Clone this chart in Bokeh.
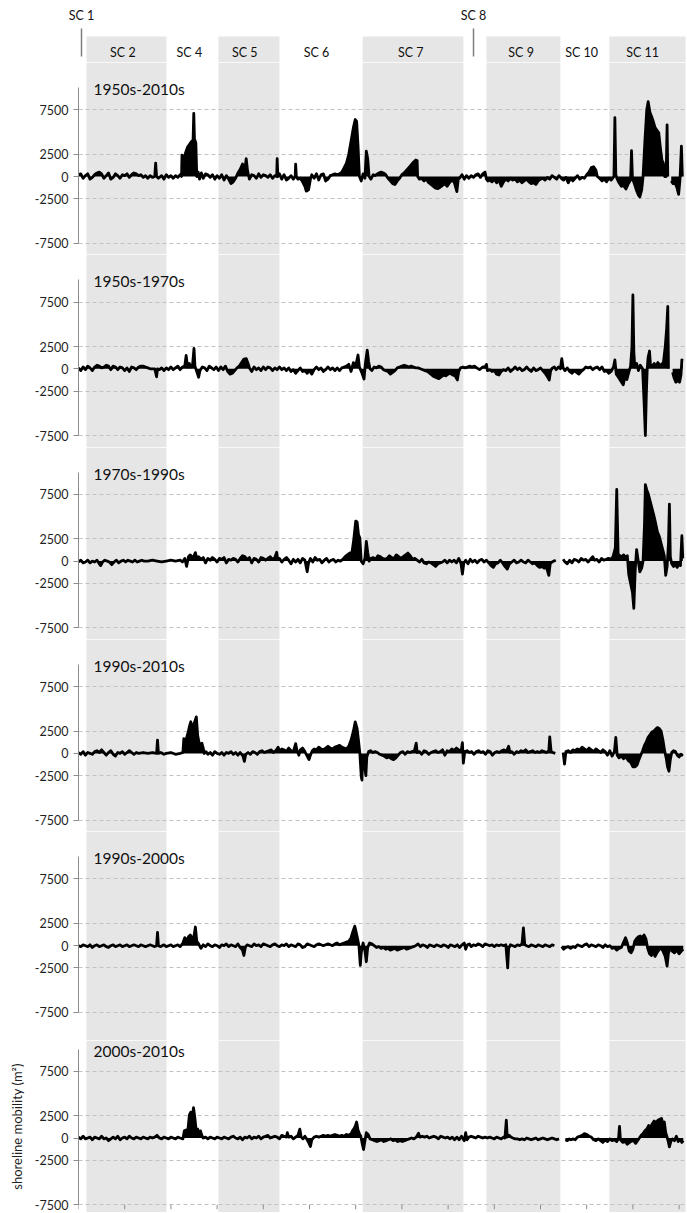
import math
from bokeh.plotting import figure
from bokeh.layouts import column
from bokeh.models import Range1d, FixedTicker
from bokeh.core.properties import value
from bokeh.embed import file_html
from bokeh.resources import INLINE

FONT = "Lato"

# ---------------- data ----------------
# coastal sub-cells: edges along the coast (axis ticks every 10 units)
sc_edges = [1.73, 19.05, 30.3, 43.5, 61.5, 83.3, 88.3, 104.3, 114.9, 131.4]
sc_names = ["SC 2", "SC 4", "SC 5", "SC 6", "SC 7", "", "SC 9", "SC 10", "SC 11"]
sc_shaded = [1, 0, 1, 0, 1, 0, 1, 0, 1]
sc_label_x = [9.6, 24.0, 36.0, 51.5, 71.9, None, 95.8, 108.9, 122.1]
sc_marker_names = ["SC 1", "SC 8"]
sc_marker_x = [0.65, 85.5]

y_ticks = [-7500, -2500, 0, 2500, 7500]
grid_ticks = [-7500, -2500, 2500, 7500]
x_ticks = [0, 10, 20, 30, 40, 50, 60, 70, 80, 90, 100, 110, 120, 130]

titles = ["1950s-2010s", "1950s-1970s", "1970s-1990s", "1990s-2010s", "1990s-2000s", "2000s-2010s"]
y_label = "shoreline mobility (m²)"

# (distance, shoreline mobility m2); (None, None) = gap
p1950_2010 = [
(0.0,200),(0.5,300),(1.0,-200),(1.5,100),(2.0,300),(2.5,-300),(3.0,-100),(3.5,200),(4.0,400),(4.5,500),
(5.0,300),(5.5,-200),(6.0,100),(6.5,400),(7.0,-300),(7.5,-100),(8.0,300),(8.5,100),(9.0,-200),(9.5,200),
(10.0,100),(10.5,300),(11.0,-100),(11.5,200),(12.0,400),(12.5,300),(13.0,100),(13.5,200),(14.0,-100),(14.5,100),
(15.0,-200),(15.5,100),(16.0,-100),(16.5,0),(16.7,1500),(16.9,0),(17.3,-200),(18.0,100),(18.5,-300),(19.0,200),
(19.5,-100),(20.0,100),(20.5,-200),(21.0,100),(21.5,-100),(22.0,200),(22.3,0),(22.4,2400),(22.8,2000),(23.2,2700),
(23.6,3300),(24.0,3600),(24.4,3900),(24.8,4100),(24.95,7100),(25.1,4200),(25.4,3800),(25.6,0),(25.9,500),(26.2,-300),
(26.6,400),(27.0,-200),(27.5,300),(28.0,200),(28.5,-100),(29.0,200),(29.5,-300),(30.0,100),(30.5,-200),(31.0,200),
(31.5,-400),(32.0,100),(32.5,-300),(33.0,-800),(33.5,-600),(34.0,-200),(34.5,400),(35.0,800),(35.5,1400),(36.0,700),
(36.3,2000),(36.6,600),(37.0,-300),(37.5,200),(38.0,100),(38.5,-200),(39.0,300),(39.5,-100),(40.0,200),(40.5,100),
(41.0,-100),(41.5,200),(42.0,-200),(42.5,100),(42.9,0),(43.0,2000),(43.15,0),(43.5,300),(44.0,-300),(44.5,200),
(45.0,-400),(45.5,-200),(46.0,100),(46.5,-300),(46.9,0),(47.0,1400),(47.15,0),(47.5,-300),(48.0,-200),(48.5,-600),
(49.0,-1100),(49.3,-1650),(49.8,-1500),(50.2,-300),(50.5,200),(51.0,-200),(51.5,300),(52.0,-400),(52.5,200),(53.0,300),
(53.5,-500),(54.0,-300),(54.5,100),(55.0,200),(55.5,300),(56.0,200),(56.5,300),(57.0,500),(57.5,1000),(58.0,1500),
(58.5,2500),(59.0,4000),(59.5,5500),(59.9,6400),(60.2,6200),(60.5,3500),(60.8,0),(61.2,-500),(61.6,300),(62.0,-200),
(62.3,2850),(62.6,2000),(62.9,0),(63.3,-300),(63.8,200),(64.2,100),(64.7,300),(65.0,400),(65.5,500),(66.0,400),
(66.5,200),(67.0,-200),(67.5,-500),(68.0,-800),(68.5,-900),(69.0,-500),(69.5,-200),(70.0,200),(70.5,400),(71.0,700),
(71.5,1000),(72.0,1300),(72.5,1600),(73.0,1850),(73.3,1800),(73.4,0),(73.8,-300),(74.2,-200),(74.8,-500),(75.3,-300),
(75.8,-700),(76.3,-900),(76.8,-1100),(77.3,-1300),(77.8,-1350),(78.3,-1200),(78.8,-1000),(79.3,-800),(79.8,-1100),(80.3,-700),
(80.8,-400),(81.3,-600),(81.9,-1700),(82.2,-300),(82.6,-100),(83.0,200),(83.5,-300),(84.0,100),(84.5,-200),(85.0,100),
(85.5,-100),(86.0,200),(86.5,300),(87.0,-100),(87.5,300),(88.0,500),(88.3,-300),(88.6,-500),(89.0,-400),(89.5,-600),
(90.0,-300),(90.5,-700),(91.0,-400),(91.5,-1100),(92.0,-600),(92.5,-300),(93.0,-500),(93.5,-200),(94.0,-400),(94.5,-300),
(95.0,-600),(95.5,-400),(96.0,-700),(96.5,-500),(97.0,-300),(97.5,-600),(98.0,-800),(98.5,-700),(99.0,-900),(99.5,-500),
(100.0,-300),(100.5,-200),(101.0,-400),(101.5,-100),(102.0,-300),(102.5,100),(103.0,-100),(103.5,-300),(104.0,100),(104.5,-200),
(105.0,-400),(105.5,-100),(106.0,-700),(106.5,-200),(107.0,-500),(107.5,-200),(108.0,100),(108.5,-300),(109.0,-100),(109.5,-200),
(110.0,200),(110.5,500),(111.0,1000),(111.5,1100),(112.0,700),(112.3,0),(112.8,-200),(113.3,-500),(113.8,-300),(114.3,-600),
(114.8,-200),(115.3,-400),(115.9,0),(116.1,6600),(116.3,200),(116.6,-300),(117.0,-700),(117.5,-1100),(118.0,-1000),(118.5,-1400),
(119.0,-800),(119.5,-400),(119.7,2900),(119.9,-200),(120.3,-800),(120.8,-1600),(121.2,-2100),(121.5,-2300),(121.9,-1500),(122.2,0),
(122.6,4000),(123.0,7500),(123.3,8400),(123.7,7200),(124.0,6800),(124.4,6200),(124.8,5500),(125.2,5200),(125.6,4900),(126.0,3000),
(126.3,1800),(126.6,1500),(126.9,0),(127.2,0),(127.4,5800),(127.55,0),(None,None),
(128.3,-500),(128.7,-800),(129.1,-700),(129.5,-1200),(129.9,-2000),(130.2,-300),(130.5,3400),(130.7,0),
]

p1950_1970 = [
(0.0,100),(0.5,-200),(1.0,200),(1.5,-100),(2.0,300),(2.5,100),(3.0,-200),(3.5,200),(4.0,400),(4.5,300),
(5.0,100),(5.5,200),(6.0,400),(6.5,300),(7.0,-100),(7.5,300),(8.0,200),(8.5,-100),(9.0,200),(9.5,100),
(10.0,-200),(10.5,100),(11.0,-300),(11.5,200),(12.0,100),(12.5,-100),(13.0,200),(13.5,300),(14.0,300),(14.5,200),
(15.0,100),(15.5,0),(16.0,0),(16.5,0),(16.9,-900),(17.1,0),(17.5,-100),(18.0,100),(18.5,-200),(19.0,100),
(19.5,-100),(20.0,200),(20.5,-100),(21.0,100),(21.5,300),(22.0,-100),(22.5,200),(23.0,300),(23.3,1500),(23.6,200),
(24.0,600),(24.3,200),(24.7,500),(25.0,2300),(25.2,300),(25.6,-300),(26.0,-950),(26.3,-200),(26.8,200),(27.3,100),
(27.8,-200),(28.3,300),(28.8,100),(29.3,-100),(29.8,200),(30.3,-200),(30.8,200),(31.3,-100),(31.8,300),(32.3,-300),
(32.8,-600),(33.3,-500),(33.8,-200),(34.3,100),(34.8,300),(35.3,700),(35.8,1100),(36.3,1150),(36.7,600),(37.0,100),
(37.5,-300),(38.0,200),(38.5,-100),(39.0,100),(39.5,-200),(40.0,200),(40.5,-100),(41.0,200),(41.5,100),(42.0,-200),
(42.5,100),(43.0,-100),(43.5,200),(44.0,-100),(44.5,100),(45.0,-200),(45.5,100),(46.0,-300),(46.5,-100),(47.0,-500),
(47.5,-200),(48.0,100),(48.5,-300),(49.0,-200),(49.5,-500),(50.0,-200),(50.5,-600),(51.0,-100),(51.5,200),(52.0,-100),
(52.5,100),(53.0,-300),(53.5,-100),(54.0,200),(54.5,-100),(55.0,100),(55.5,-200),(56.0,100),(56.5,-200),(57.0,100),
(57.5,200),(58.0,300),(58.5,500),(59.0,-300),(59.5,700),(60.0,300),(60.5,1550),(60.8,200),(61.3,-400),(61.8,-1150),
(62.1,600),(62.5,2100),(62.8,800),(63.1,0),(63.5,-200),(64.0,200),(64.5,100),(65.0,300),(65.5,200),(66.0,-100),
(66.5,-200),(67.0,-300),(67.5,-600),(68.0,-400),(68.5,-200),(69.0,100),(69.5,200),(70.0,300),(70.5,400),(71.0,300),
(71.5,200),(72.0,300),(72.5,200),(73.0,100),(73.5,100),(74.0,0),(74.5,-100),(75.0,-200),(75.5,-300),(76.0,-500),
(76.5,-700),(77.0,-900),(77.5,-1000),(78.0,-1100),(78.5,-900),(79.0,-700),(79.5,-800),(80.0,-600),(80.5,-500),(81.0,-700),
(81.5,-800),(82.0,-1250),(82.3,-300),(82.7,100),(83.2,200),(83.7,100),(84.2,200),(84.7,300),(85.2,200),(85.7,300),
(86.2,100),(86.8,-100),(87.5,200),(88.0,200),(88.3,500),(88.5,-200),(89.0,-100),(89.5,-300),(90.0,-200),(90.5,-600),
(91.0,-700),(91.5,-300),(92.0,-100),(92.5,-200),(93.0,100),(93.5,-300),(94.0,-100),(94.5,200),(95.0,-100),(95.5,100),
(96.0,-200),(96.5,-100),(97.0,200),(97.5,-100),(98.0,-300),(98.5,100),(99.0,-200),(99.5,-100),(100.0,100),(100.5,-200),
(101.0,-500),(101.5,-900),(101.9,-1250),(102.2,-200),(102.6,100),(103.0,200),(103.4,-100),(103.9,200),(104.3,0),(104.6,1150),
(104.9,100),(105.3,-200),(105.8,100),(106.3,-300),(106.8,-500),(107.3,-200),(107.8,-400),(108.3,-600),(108.8,-300),(109.3,-100),
(109.8,200),(110.3,100),(110.8,200),(111.3,-100),(111.8,100),(112.3,200),(112.8,-100),(113.3,200),(113.8,-300),(114.3,-200),
(114.8,-500),(115.3,-300),(115.8,200),(116.1,1000),(116.4,-600),(116.8,-900),(117.3,-1300),(117.9,-1800),(118.3,-900),(118.7,-1200),
(119.1,-400),(119.5,300),(119.8,2500),(120.0,8300),(120.2,2000),(120.4,200),(120.8,600),(121.2,-200),(121.6,400),(122.1,0),
(122.4,-3500),(122.7,-7500),(122.9,-3000),(123.1,0),(123.3,1300),(123.6,2000),(123.8,400),(124.2,300),(124.6,600),(125.0,300),
(125.4,700),(125.8,400),(126.2,500),(126.6,700),(127.0,2500),(127.3,4500),(127.55,7000),(127.7,0),(None,None),
(128.6,-400),(128.9,-1000),(129.3,-1500),(129.7,-1300),(130.1,-1500),(130.4,-700),(130.6,1000),(130.8,900),
]

p1970_1990 = [
(0.0,-100),(0.5,100),(1.0,-200),(1.5,-100),(2.0,100),(2.5,-200),(3.0,0),(3.5,-100),(4.0,100),(4.5,-300),
(4.8,-500),(5.2,-100),(5.7,100),(6.2,0),(6.7,-100),(7.2,-400),(7.7,-100),(8.2,100),(8.7,-200),(9.2,0),
(9.7,100),(10.2,-100),(10.7,100),(11.2,0),(11.7,-100),(12.2,100),(12.7,-100),(13.2,0),(13.7,100),(14.2,0),
(15.0,0),(16.0,100),(17.0,0),(18.0,-100),(19.0,0),(20.0,100),(21.0,0),(22.0,100),(22.5,-100),(23.0,300),
(23.4,-600),(23.8,500),(24.2,700),(24.6,400),(25.0,600),(25.3,950),(25.6,300),(26.0,500),(26.5,200),(27.0,400),
(27.5,-200),(28.0,300),(28.5,100),(29.0,400),(29.5,200),(30.0,-100),(30.5,300),(31.0,200),(31.5,400),(32.0,-200),
(32.5,200),(33.0,100),(33.5,300),(34.0,200),(34.5,-100),(35.0,300),(35.5,600),(36.0,500),(36.5,200),(37.0,400),
(37.5,-200),(38.0,300),(38.5,200),(39.0,-100),(39.5,400),(40.0,300),(40.5,100),(41.0,300),(41.5,500),(42.0,200),
(42.5,400),(42.9,1000),(43.1,200),(43.5,300),(44.0,-100),(44.5,200),(45.0,400),(45.5,100),(46.0,-300),(46.5,200),
(47.0,-100),(47.5,200),(48.0,-200),(48.5,300),(49.0,100),(49.5,-1200),(49.8,-200),(50.2,300),(50.7,-100),(51.2,400),
(51.7,100),(52.2,200),(52.7,-200),(53.2,100),(53.7,300),(54.2,-100),(54.7,100),(55.2,200),(55.7,-100),(56.2,100),
(56.7,0),(57.2,200),(57.7,500),(58.2,700),(58.7,900),(59.2,1000),(59.6,2500),(60.0,4500),(60.3,4400),(60.6,3000),
(60.9,2600),(61.2,0),(61.6,-300),(62.0,300),(62.3,2200),(62.6,1000),(62.9,0),(63.3,300),(63.8,400),(64.3,200),
(64.8,600),(65.3,500),(65.8,300),(66.3,200),(66.8,300),(67.3,600),(67.8,400),(68.3,300),(68.8,700),(69.3,500),
(69.8,300),(70.3,500),(70.8,700),(71.3,900),(71.8,600),(72.3,200),(72.8,300),(73.3,100),(73.8,-100),(74.3,200),
(74.8,-200),(75.3,-300),(75.8,-100),(76.3,-200),(76.8,-400),(77.3,-600),(77.8,-300),(78.3,-200),(78.8,-100),(79.3,100),
(79.8,-200),(80.3,100),(80.8,-100),(81.3,100),(81.8,-200),(82.3,300),(82.8,-300),(83.1,-1450),(83.4,-200),(83.8,100),
(84.3,-300),(84.8,200),(85.3,-100),(85.8,100),(86.3,-200),(86.8,100),(87.3,200),(87.8,-100),(88.3,100),(88.8,-200),
(89.3,-500),(89.8,-700),(90.3,-300),(90.8,-200),(91.3,100),(91.8,-200),(92.3,-600),(92.8,-900),(93.3,-300),(93.8,-100),
(94.3,100),(94.8,-200),(95.3,-100),(95.8,100),(96.3,-100),(96.8,-200),(97.3,100),(97.8,-100),(98.3,-300),(98.8,-200),
(99.3,-500),(99.8,-700),(100.3,-600),(100.8,-800),(101.3,-700),(101.8,-1600),(102.1,-300),(102.5,-100),(102.9,0),(103.3,100),
(None,None),
(104.9,200),(105.3,-100),(105.8,-300),(106.3,100),(106.8,-200),(107.3,200),(107.8,100),(108.3,-100),(108.8,300),(109.3,100),
(109.8,200),(110.3,-100),(110.8,200),(111.3,500),(111.7,100),(112.2,200),(112.7,-100),(113.2,300),(113.7,100),(114.2,200),
(114.7,300),(115.2,200),(115.7,500),(116.2,1500),(116.5,8050),(116.8,800),(117.2,600),(117.6,500),(118.0,700),(118.4,400),
(118.8,600),(119.1,-1500),(119.5,-2500),(119.9,-3500),(120.2,-5300),(120.5,-1000),(120.8,1300),(121.1,200),(121.5,-1200),(121.9,-800),
(122.2,0),(122.5,4000),(122.7,8600),(123.0,8000),(123.3,7600),(123.7,6800),(124.1,6000),(124.5,5200),(124.9,4300),(125.3,3300),
(125.7,2800),(126.1,2000),(126.5,1200),(126.8,600),(127.1,-1600),(127.4,-600),(127.7,2000),(127.9,6400),(128.1,500),(128.4,-300),
(128.8,-600),(129.2,-400),(129.6,-700),(130.0,-300),(130.3,-500),(130.6,2850),(130.8,300),
]

p1990_2010 = [
(0.0,100),(0.5,-100),(1.0,200),(1.5,-200),(2.0,100),(2.5,0),(3.0,-100),(3.5,200),(4.0,300),(4.5,100),
(5.0,400),(5.5,100),(6.0,-200),(6.5,100),(7.0,300),(7.5,-100),(8.0,-300),(8.5,100),(9.0,0),(9.5,200),
(10.0,-100),(10.5,100),(11.0,300),(11.5,100),(12.0,-100),(12.5,100),(13.0,0),(14.0,100),(15.0,0),(16.0,100),
(16.9,0),(17.1,1500),(17.3,0),(17.8,100),(18.5,-100),(19.0,0),(20.0,100),(21.0,-100),(22.0,0),(22.6,100),
(22.8,1650),(23.2,1400),(23.6,2100),(24.0,3000),(24.3,3550),(24.6,3000),(25.0,3300),(25.5,4100),(25.8,2000),(26.1,1200),
(26.4,900),(26.7,1150),(27.0,600),(27.2,0),(27.6,200),(28.0,-100),(28.5,100),(29.0,-200),(29.5,200),(30.0,0),
(30.5,-100),(31.0,100),(31.5,-200),(32.0,100),(32.5,0),(33.0,200),(33.5,-100),(34.0,100),(34.5,-200),(35.0,100),
(35.6,-300),(35.9,-900),(36.2,-100),(36.7,100),(37.2,-100),(37.7,200),(38.2,100),(38.7,-100),(39.2,200),(39.7,300),
(40.2,100),(40.7,200),(41.2,300),(41.7,400),(42.2,100),(42.7,300),(43.2,700),(43.6,200),(44.0,500),(44.5,400),
(45.0,200),(45.5,600),(46.0,300),(46.5,200),(47.0,1100),(47.3,300),(47.7,-200),(48.0,400),(48.5,600),(49.0,200),
(49.5,-300),(49.9,-700),(50.2,-200),(50.6,300),(51.0,500),(51.5,400),(52.0,700),(52.5,500),(53.0,400),(53.5,600),
(54.0,800),(54.5,600),(55.0,500),(55.5,700),(56.0,800),(56.5,900),(57.0,700),(57.5,600),(58.0,500),(58.5,800),
(59.0,1500),(59.5,2500),(59.9,3550),(60.3,2800),(60.6,1500),(60.9,0),(61.2,-2600),(61.35,-3000),(61.5,-500),(61.8,-1000),
(62.2,-2500),(62.4,-400),(62.8,200),(63.2,300),(63.7,100),(64.2,200),(64.7,100),(65.2,-100),(65.7,-200),(66.2,-300),
(66.7,-500),(67.2,-400),(67.7,-600),(68.2,-700),(68.7,-500),(69.2,-200),(69.7,100),(70.2,200),(70.7,-100),(71.2,200),
(71.7,100),(72.2,200),(72.7,300),(73.1,1150),(73.3,100),(73.8,200),(74.3,-100),(74.8,300),(75.3,200),(75.8,-100),
(76.3,100),(76.8,200),(77.3,300),(77.8,100),(78.3,200),(78.8,400),(79.3,-200),(79.8,300),(80.3,200),(80.8,500),
(81.3,300),(81.8,600),(82.3,400),(82.8,200),(83.1,1200),(83.3,-1100),(83.6,200),(84.1,300),(84.6,100),(85.1,200),
(85.6,-100),(86.1,200),(86.6,300),(87.1,100),(87.6,200),(88.1,-100),(88.6,300),(89.1,200),(89.6,-200),(90.1,100),
(90.6,200),(91.1,100),(91.6,300),(92.1,400),(92.6,200),(93.1,800),(93.4,100),(93.8,200),(94.3,-100),(94.8,200),
(95.3,100),(95.8,300),(96.3,200),(96.8,400),(97.3,100),(97.8,200),(98.3,300),(98.8,100),(99.3,200),(99.8,100),
(100.3,300),(100.8,200),(101.3,100),(101.8,300),(102.0,1850),(102.3,200),(102.7,100),(103.2,0),(None,None),
(104.9,100),(105.2,-1200),(105.5,200),(106.0,300),(106.5,100),(107.0,400),(107.5,300),(108.0,500),(108.5,400),(109.0,700),
(109.5,500),(110.0,300),(110.5,600),(111.0,400),(111.5,200),(112.0,500),(112.5,300),(113.0,100),(113.5,400),(114.0,200),
(114.5,-200),(115.0,300),(115.5,-300),(116.0,200),(116.3,1800),(116.6,-200),(117.0,-500),(117.5,-300),(118.0,-600),(118.5,-400),
(119.0,-800),(119.5,-1000),(120.0,-1500),(120.5,-1500),(120.9,-1300),(121.3,-700),(121.7,-200),(122.1,300),(122.5,900),(122.9,1300),
(123.3,1800),(123.7,2100),(124.1,2400),(124.5,2500),(124.9,2700),(125.3,2900),(125.7,2800),(126.1,2500),(126.5,1500),(126.9,200),
(127.2,-500),(127.5,-1500),(127.8,-2000),(128.1,-700),(128.4,100),(128.8,300),(129.2,200),(129.6,-200),(130.0,-400),(130.4,-100),
(130.8,-300),
]

p1990_2000 = [
(0.0,0),(0.5,-100),(1.0,100),(1.5,0),(2.0,-100),(2.5,100),(3.0,-200),(3.5,0),(4.0,100),(4.5,-100),
(5.0,0),(5.5,100),(6.0,-100),(6.5,-200),(7.0,0),(7.5,100),(8.0,-100),(8.5,0),(9.0,100),(9.5,-100),
(10.0,0),(10.5,100),(11.0,-100),(11.5,0),(12.0,100),(12.5,0),(13.0,-100),(13.5,100),(14.0,0),(14.5,-100),
(15.0,0),(15.5,100),(16.0,0),(16.5,-100),(16.9,0),(17.1,1500),(17.3,0),(17.8,-100),(18.5,100),(19.0,-100),
(19.5,0),(20.0,100),(20.5,-100),(21.0,0),(21.5,100),(22.0,-100),(22.6,300),(23.0,900),(23.4,600),(23.8,1000),
(24.2,1200),(24.6,800),(25.0,1100),(25.3,2100),(25.6,500),(26.0,200),(26.5,-300),(27.0,100),(27.5,-100),(28.0,200),
(28.5,0),(29.0,-100),(29.5,100),(30.0,0),(30.5,-200),(31.0,100),(31.5,0),(32.0,200),(32.5,-100),(33.0,100),
(33.5,0),(34.0,-100),(34.5,200),(35.0,-200),(35.5,-500),(35.8,-1100),(36.1,-200),(36.5,100),(37.0,0),(37.5,-100),
(38.0,200),(38.5,0),(39.0,100),(39.5,-100),(40.0,200),(40.5,100),(41.0,0),(41.5,-100),(42.0,100),(42.5,200),
(43.0,0),(43.5,-100),(44.0,100),(44.5,0),(45.0,200),(45.5,-100),(46.0,100),(46.5,0),(47.0,-100),(47.5,200),
(48.0,100),(48.5,-200),(49.0,-100),(49.5,200),(50.0,100),(50.5,0),(51.0,-100),(51.5,100),(52.0,200),(52.5,100),
(53.0,0),(53.5,100),(54.0,200),(54.5,100),(55.0,0),(55.5,200),(56.0,300),(56.5,100),(57.0,200),(57.5,300),
(58.0,400),(58.5,500),(59.0,900),(59.4,1600),(59.8,2200),(60.1,1500),(60.4,800),(60.7,0),(61.0,-2200),(61.2,-800),
(61.6,300),(62.0,-600),(62.3,-1800),(62.6,-200),(63.0,300),(63.5,200),(64.0,0),(64.5,-200),(65.0,-100),(65.5,-300),
(66.0,-200),(66.5,-400),(67.0,-300),(67.5,-500),(68.0,-400),(68.5,-300),(69.0,-500),(69.5,-400),(70.0,-300),(70.5,-200),
(71.0,-400),(71.5,-300),(72.0,-200),(72.5,-100),(73.0,0),(73.5,200),(74.0,-100),(74.5,100),(75.0,0),(75.5,-200),
(76.0,100),(76.5,0),(77.0,-100),(77.5,100),(78.0,0),(78.5,-100),(79.0,100),(79.5,0),(80.0,-200),(80.5,100),
(81.0,0),(81.5,-100),(82.0,100),(82.5,-200),(83.0,100),(83.5,300),(83.8,-400),(84.2,100),(84.6,200),(85.0,-100),
(85.5,100),(86.0,0),(86.5,200),(87.0,100),(87.5,-100),(88.0,200),(88.5,100),(89.0,0),(89.5,100),(90.0,-100),
(90.5,100),(91.0,0),(91.5,100),(92.0,0),(92.5,100),(92.9,-2500),(93.1,-300),(93.5,100),(94.0,0),(94.5,-100),
(95.0,100),(95.5,0),(96.0,200),(96.3,2000),(96.6,100),(97.0,0),(97.5,-100),(98.0,100),(98.5,0),(99.0,-100),
(99.5,100),(100.0,0),(100.5,-100),(101.0,100),(101.5,0),(102.0,-100),(102.5,100),(103.0,0),(None,None),
(104.6,-100),(105.0,-400),(105.5,-200),(106.0,-100),(106.5,-300),(107.0,-100),(107.5,-200),(108.0,100),(108.5,0),(109.0,-100),
(109.5,100),(110.0,200),(110.5,-100),(111.0,100),(111.5,0),(112.0,-100),(112.5,100),(113.0,0),(113.5,-200),(114.0,100),
(114.5,-100),(115.0,0),(115.5,-300),(116.0,-200),(116.5,-500),(117.0,-300),(117.5,-200),(118.0,400),(118.4,900),(118.8,300),
(119.2,-600),(119.6,-800),(120.0,-400),(120.4,500),(120.8,800),(121.2,1000),(121.6,1100),(122.0,900),(122.4,1200),(122.8,800),
(123.2,-300),(123.6,-900),(124.0,-1100),(124.4,-700),(124.8,-1200),(125.2,-800),(125.6,-500),(126.0,-200),(126.5,-600),(127.0,-1200),
(127.4,-2300),(127.7,-800),(128.1,-300),(128.5,-600),(129.0,-800),(129.5,-500),(130.0,-900),(130.5,-600),(130.9,-400),
]

p2000_2010 = [
(0.0,100),(0.5,-100),(1.0,200),(1.5,-100),(2.0,0),(2.5,100),(3.0,-200),(3.5,100),(4.0,0),(4.5,-100),
(5.0,200),(5.5,-100),(6.0,0),(6.5,-300),(7.0,-100),(7.5,100),(8.0,-100),(8.5,200),(9.0,-200),(9.5,0),
(10.0,100),(10.5,-100),(11.0,200),(11.5,0),(12.0,-100),(12.5,100),(13.0,0),(13.5,-100),(14.0,100),(14.5,0),
(15.0,-100),(15.5,100),(16.0,0),(16.5,100),(17.0,300),(17.5,0),(18.0,-100),(18.5,100),(19.0,0),(19.5,-100),
(20.0,100),(20.5,0),(21.0,-100),(21.5,100),(22.0,0),(22.6,-100),(22.9,800),(23.3,900),(23.7,1000),(24.0,2600),
(24.3,2900),(24.6,2400),(24.9,3400),(25.2,2200),(25.5,700),(25.8,1000),(26.1,400),(26.4,800),(26.7,300),(27.0,0),
(27.5,100),(28.0,-100),(28.5,100),(29.0,0),(29.5,-100),(30.0,100),(30.5,0),(31.0,-100),(31.5,100),(32.0,0),
(32.5,-100),(33.0,100),(33.5,200),(34.0,0),(34.5,-100),(35.0,100),(35.5,-200),(36.0,100),(36.5,0),(37.0,200),
(37.5,-100),(38.0,100),(38.5,0),(39.0,200),(39.5,-100),(40.0,100),(40.5,200),(41.0,300),(41.5,0),(42.0,100),
(42.5,200),(43.0,100),(43.5,-100),(44.0,300),(44.5,200),(45.0,100),(45.2,600),(45.5,100),(46.0,200),(46.5,-100),
(47.0,100),(47.5,300),(47.9,1000),(48.2,100),(48.6,-100),(49.0,200),(49.5,-200),(49.9,-600),(50.2,-950),(50.5,-200),
(51.0,100),(51.5,200),(52.0,100),(52.5,200),(53.0,300),(53.5,200),(54.0,300),(54.5,200),(55.0,300),(55.5,400),
(56.0,300),(56.5,200),(57.0,300),(57.5,200),(58.0,400),(58.5,300),(59.0,500),(59.4,900),(59.7,1100),(60.0,1500),
(60.2,1800),(60.5,900),(60.8,500),(61.1,200),(61.4,-600),(61.7,-1300),(62.0,-300),(62.3,600),(62.7,400),(63.1,-100),
(63.6,-200),(64.1,-300),(64.6,-400),(65.1,-300),(65.6,-200),(66.1,-400),(66.6,-300),(67.1,-200),(67.6,-100),(68.1,-300),
(68.6,-200),(69.1,-400),(69.6,-300),(70.1,-400),(70.6,-300),(71.1,-200),(71.6,-100),(72.1,0),(72.6,-100),(73.1,100),
(73.6,550),(73.9,100),(74.4,200),(74.9,100),(75.4,200),(75.9,0),(76.4,100),(76.9,200),(77.4,100),(77.9,-100),
(78.4,200),(78.9,100),(79.4,0),(79.9,100),(80.4,-100),(80.9,100),(81.4,-200),(81.9,100),(82.4,-200),(82.9,200),
(83.5,-300),(83.8,600),(84.1,-200),(84.5,100),(85.0,200),(85.5,100),(86.0,0),(86.5,200),(87.0,100),(87.5,0),
(88.0,100),(88.5,0),(89.0,100),(89.5,0),(90.0,-100),(90.5,100),(91.0,0),(91.5,-100),(92.0,100),(92.3,0),
(92.6,2000),(92.8,100),(93.2,300),(93.6,100),(94.0,0),(94.5,-100),(95.0,-100),(95.5,-200),(96.0,-100),(96.5,-200),
(97.0,0),(97.5,-100),(98.0,-200),(98.5,-100),(99.0,0),(99.5,-200),(100.0,-100),(100.5,0),(101.0,-100),(101.5,-200),
(102.0,-100),(102.5,0),(103.0,-100),(103.5,-200),(104.0,-100),(None,None),
(105.4,-200),(105.8,-300),(106.2,-100),(106.6,-200),(107.0,-100),(107.5,-200),(108.0,100),(108.5,200),(109.0,300),(109.5,500),
(110.0,400),(110.5,200),(111.0,100),(111.5,-200),(112.0,-300),(112.5,-100),(113.0,-300),(113.5,-500),(114.0,-200),(114.5,-400),
(115.0,-100),(115.5,-300),(116.0,-200),(116.5,-400),(116.9,0),(117.1,1300),(117.3,-200),(117.8,-500),(118.3,-400),(118.8,-700),
(119.3,-500),(119.8,-300),(120.3,-400),(120.6,-600),(121.0,-300),(121.4,0),(121.8,300),(122.2,500),(122.6,800),(123.0,1000),
(123.4,1400),(123.8,1200),(124.2,1600),(124.6,1900),(125.0,1700),(125.4,2000),(125.8,2100),(126.2,2200),(126.5,1500),(126.8,1800),
(127.1,600),(127.4,100),(127.7,-500),(127.9,-1000),(128.2,-400),(128.6,-100),(129.0,-300),(129.4,200),(129.8,-400),(130.2,-200),
(130.6,-500),(130.9,-300),
]

series = [p1950_2010, p1950_1970, p1970_1990, p1990_2010, p1990_2000, p2000_2010]

# ---------------- layout constants ----------------
S = 0.0089           # px per m2 (vertical)
PX_U = 4.62          # px per distance unit
FIG_W = 687
LEFT = 78
XMAX = (FIG_W - LEFT) / PX_U
T0 = 87.0            # page y of the first panel's axis top (10000)
PERIOD = 192.3       # vertical distance between panels
TOP_PAD = 25         # px above each axis top inside its figure
LAST_TOP_PAD = 9
TOTAL_H = 1212
HDR_FRAME_TOP = 25
GRAY = "#e6e6e6"
AXIS_GRAY = "#8c8c8c"

n = len(series)
tops = [int(round(T0 + PERIOD * i - (LAST_TOP_PAD if i == n - 1 else TOP_PAD))) for i in range(n)] + [TOTAL_H]
HEADER_H = tops[0]


def segments(pts):
    segs = [[]]
    for x, y in pts:
        if y is None:
            segs.append([])
        else:
            segs[-1].append((x, y))
    return [([a for a, b in s], [b for a, b in s]) for s in segs if s]


band_l = [sc_edges[i] for i, sh in enumerate(sc_shaded) if sh]
band_r = [sc_edges[i + 1] for i, sh in enumerate(sc_shaded) if sh]

# ---------------- header ----------------
hdr = figure(width=FIG_W, height=HEADER_H, x_range=Range1d(0, XMAX),
             y_range=Range1d(HEADER_H, HDR_FRAME_TOP), output_backend="svg", toolbar_location=None,
             x_axis_location="above", y_axis_location=None,
             min_border_left=LEFT, min_border_right=0, min_border_top=HDR_FRAME_TOP, min_border_bottom=0)
hdr.grid.visible = False
hdr.outline_line_color = None
hdr.quad(left=band_l, right=band_r, top=36, bottom=HEADER_H, fill_color=GRAY, line_color=None)
lab_x = [x for x in sc_label_x if x is not None]
lab_t = [nm for nm, x in zip(sc_names, sc_label_x) if x is not None]
hdr.text(x=lab_x, y=[52] * len(lab_x), text=lab_t, text_font=value(FONT), text_font_size="12.5px",
         text_align="center", text_baseline="middle", text_color="#111111")
hdr.segment(x0=sc_marker_x, x1=sc_marker_x, y0=[28] * 2, y1=[56] * 2, line_color="#7f7f7f", line_width=1.5)
ha = hdr.xaxis[0]
ha.ticker = FixedTicker(ticks=sc_marker_x)
ha.major_label_overrides = {x: nm for x, nm in zip(sc_marker_x, sc_marker_names)}
ha.axis_line_color = None
ha.major_tick_line_color = None
ha.minor_tick_line_color = None
ha.major_tick_out = 0
ha.major_tick_in = 0
ha.major_label_standoff = 3
ha.major_label_text_font = FONT
ha.major_label_text_font_size = "12.5px"
ha.major_label_text_color = "#111111"

# ---------------- panels ----------------
figs = [hdr]
for i, (title, pts) in enumerate(zip(titles, series)):
    last = i == n - 1
    h = tops[i + 1] - tops[i]
    t_axis = T0 + PERIOD * i
    y1 = 10000 + (t_axis - tops[i]) / S
    y0 = y1 - h / S
    p = figure(width=FIG_W, height=h, x_range=Range1d(0, XMAX), y_range=Range1d(y0, y1),
               output_backend="svg", toolbar_location=None, x_axis_location=None,
               min_border_left=LEFT, min_border_right=0, min_border_top=0, min_border_bottom=0)
    p.outline_line_color = None
    p.background_fill_color = "white"
    p.quad(left=band_l, right=band_r, top=y1, bottom=y0, fill_color=GRAY, line_color=None, level="image")

    for xs, ys in segments(pts):
        p.varea(x=xs, y1=[0] * len(xs), y2=ys, fill_color="black")
        p.line(xs, ys, line_color="black", line_width=2.8, line_join="round")

    p.text(x=[3.25], y=[9830], text=[title], text_font=value(FONT), text_font_size="15.5px",
           text_baseline="middle", text_align="left", text_color="#111111")

    ya = p.yaxis[0]
    ya.ticker = FixedTicker(ticks=y_ticks)
    ya.major_label_overrides = {t: str(t) for t in y_ticks}
    ya.bounds = (-7500, 10000)
    ya.axis_line_color = AXIS_GRAY
    ya.major_tick_line_color = AXIS_GRAY
    ya.major_tick_out = 5
    ya.major_tick_in = 0
    ya.minor_tick_line_color = None
    ya.major_label_text_font = FONT
    ya.major_label_text_font_size = "12.5px"
    ya.major_label_text_color = "#1f1f1f"
    ya.major_label_standoff = 5

    p.ygrid.ticker = FixedTicker(ticks=grid_ticks)
    p.ygrid.grid_line_color = "#c2c2c2"
    p.ygrid.grid_line_dash = "4 3"
    p.ygrid.grid_line_width = 1
    p.xgrid.visible = False

    if last:
        # distance-axis tick marks below the last panel
        p.segment(x0=x_ticks, x1=x_ticks, y0=[-7500] * len(x_ticks), y1=[-7500 - 4.5 / S] * len(x_ticks),
                  line_color=AXIS_GRAY, line_width=1)
        ya.axis_label = y_label
        ya.axis_label_text_font = FONT
        ya.axis_label_text_font_style = "normal"
        ya.axis_label_text_font_size = "13px"
        ya.axis_label_text_color = "#1f1f1f"
        ya.axis_label_standoff = 7
    figs.append(p)

layout = column(*figs, spacing=0)
open("out.html", "w").write(file_html(layout, INLINE))
